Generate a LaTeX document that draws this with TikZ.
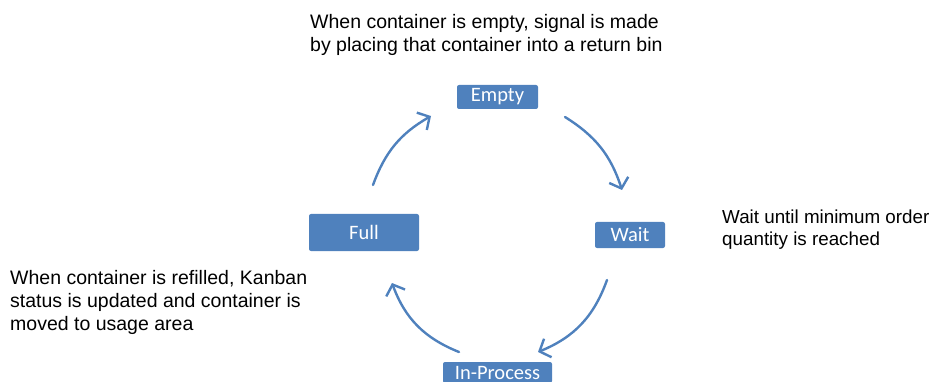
\documentclass[tikz,border=0pt]{standalone}
\usepackage{fontspec}
\setmainfont{Liberation Sans}
\newfontfamily\stagefont{Carlito}
\usetikzlibrary{arrows.meta}
\definecolor{kanbanblue}{RGB}{79,129,189}
\tikzset{
  stage/.style={fill=kanbanblue, rounded corners=2pt, text=white, inner sep=0pt,
    font=\stagefont\fontsize{20.5}{24}\selectfont},
  note/.style={align=left, inner sep=0pt, anchor=north west,
    font=\fontsize{19.5}{23}\selectfont},
  turnarrow/.style={draw=kanbanblue, line width=2.4pt, line cap=round,
    -{Straight Barb[length=9pt, width=20pt, line width=2.4pt]}}
}
\begin{document}
\begin{tikzpicture}[x=1pt,y=-1pt]
  \path[use as bounding box, clip] (0,0) rectangle (934,382);
  \node[stage, minimum width=81pt, minimum height=24pt] (empty) at (497.5,97) {Empty};
  \node[stage, minimum width=70pt, minimum height=26pt] (wait) at (630,235) {Wait};
  \node[stage, minimum width=109pt, minimum height=21pt] (inprocess) at (497.5,372.5) {In-Process};
  \node[stage, minimum width=110pt, minimum height=37pt] (full) at (364,232.5) {Full};
  \node[note] (emptynote) at (310,14.3) {When container is empty, signal is made\\by placing that container into a return bin};
  \node[note, font=\fontsize{18.8}{22.5}\selectfont] (waitnote) at (722,209.5) {Wait until minimum order\\quantity is reached};
  \node[note] (fullnote) at (10,270) {When container is refilled, Kanban\\status is updated and container is\\moved to usage area};
  \coordinate (emptyout) at (565,117);
  \coordinate (waitin) at (622,190);
  \coordinate (waitout) at (607,280);
  \coordinate (inprocessin) at (538,352);
  \coordinate (inprocessout) at (459,352);
  \coordinate (fullin) at (392,283);
  \coordinate (fullout) at (373,185);
  \coordinate (emptyin) at (431,116);
  \draw[turnarrow] (emptyout) to[bend left=20] (waitin);
  \draw[turnarrow] (waitout) to[bend left=24] (inprocessin);
  \draw[turnarrow] (inprocessout) to[bend left=24] (fullin);
  \draw[turnarrow] (fullout) to[bend left=20] (emptyin);
\end{tikzpicture}
\end{document}
